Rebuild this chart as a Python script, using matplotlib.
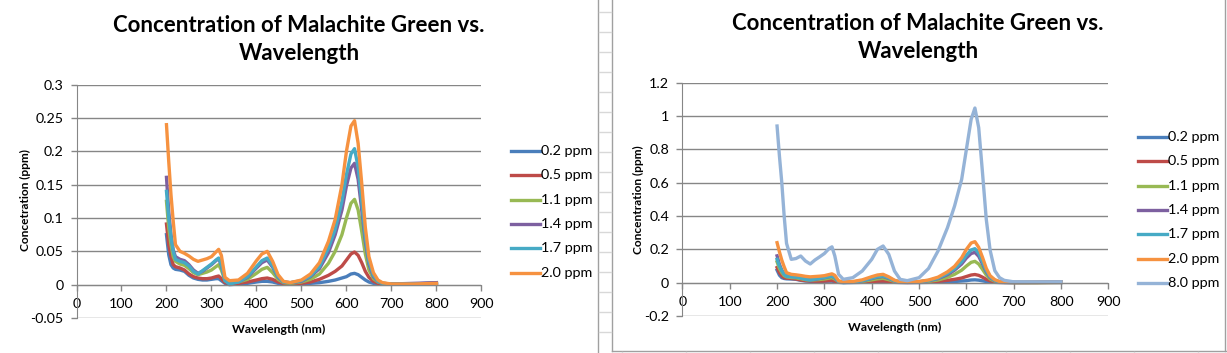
"""
Absorbance spectra of malachite green standards, redrawn as two Excel-style
line charts side by side (without and with the 8.0 ppm standard).
"""

import matplotlib
matplotlib.use('Agg')
import matplotlib.pyplot as plt
from matplotlib.lines import Line2D
from matplotlib.ticker import FuncFormatter

plt.rcParams['font.family'] = ['Lato', 'DejaVu Sans']

# Wavelength grid (nm)
wavelength = [200, 205, 210, 215, 220, 230, 240, 250, 260, 270, 280, 290, 300,
              310, 316, 322, 330, 340, 360, 380, 400, 412, 424, 436, 448, 460,
              475, 500, 520, 540, 560, 575, 590, 600, 610, 618, 626, 634, 642,
              650, 660, 670, 680, 700, 750, 800]

series_labels = ['0.2 ppm', '0.5 ppm', '1.1 ppm', '1.4 ppm', '1.7 ppm',
                 '2.0 ppm', '8.0 ppm']

ppm_0_2 = [0.075, 0.045, 0.030, 0.025, 0.023, 0.022, 0.020, 0.014, 0.010, 0.008,
           0.007, 0.007, 0.008, 0.009, 0.009, 0.006, 0.002, 0.000, 0.001, 0.002,
           0.004, 0.005, 0.005, 0.004, 0.002, 0.001, 0.001, 0.001, 0.002, 0.003,
           0.005, 0.007, 0.010, 0.012, 0.016, 0.017, 0.015, 0.011, 0.007, 0.004,
           0.002, 0.001, 0.001, 0.001, 0.001, 0.003]

ppm_0_5 = [0.091, 0.060, 0.042, 0.030, 0.027, 0.025, 0.022, 0.016, 0.012, 0.010,
           0.009, 0.009, 0.010, 0.012, 0.013, 0.009, 0.003, 0.002, 0.002, 0.004,
           0.007, 0.009, 0.010, 0.008, 0.004, 0.002, 0.001, 0.002, 0.004, 0.008,
           0.014, 0.020, 0.028, 0.037, 0.046, 0.049, 0.044, 0.033, 0.020, 0.011,
           0.005, 0.002, 0.001, 0.001, 0.001, 0.001]

ppm_1_1 = [0.125, 0.085, 0.060, 0.042, 0.035, 0.031, 0.029, 0.024, 0.018, 0.015,
           0.017, 0.019, 0.022, 0.027, 0.030, 0.022, 0.006, 0.003, 0.004, 0.008,
           0.017, 0.023, 0.026, 0.018, 0.008, 0.003, 0.002, 0.004, 0.008, 0.016,
           0.032, 0.050, 0.075, 0.100, 0.122, 0.128, 0.112, 0.080, 0.046, 0.022,
           0.009, 0.004, 0.002, 0.001, 0.001, 0.002]

ppm_1_4 = [0.161, 0.110, 0.075, 0.052, 0.042, 0.038, 0.036, 0.030, 0.022, 0.017,
           0.020, 0.025, 0.030, 0.036, 0.039, 0.029, 0.007, 0.003, 0.004, 0.011,
           0.025, 0.033, 0.037, 0.026, 0.011, 0.004, 0.003, 0.005, 0.012, 0.024,
           0.048, 0.075, 0.112, 0.148, 0.175, 0.182, 0.158, 0.112, 0.065, 0.031,
           0.012, 0.005, 0.002, 0.001, 0.002, 0.003]

ppm_1_7 = [0.140, 0.100, 0.072, 0.050, 0.038, 0.035, 0.033, 0.028, 0.020, 0.016,
           0.021, 0.026, 0.031, 0.037, 0.040, 0.030, 0.006, 0.001, 0.004, 0.012,
           0.027, 0.036, 0.040, 0.028, 0.012, 0.004, 0.003, 0.006, 0.013, 0.027,
           0.055, 0.083, 0.125, 0.165, 0.196, 0.204, 0.176, 0.125, 0.072, 0.035,
           0.014, 0.005, 0.002, 0.001, 0.001, 0.001]

ppm_2_0 = [0.240, 0.185, 0.135, 0.095, 0.060, 0.050, 0.047, 0.043, 0.038, 0.035,
           0.037, 0.039, 0.042, 0.049, 0.053, 0.044, 0.011, 0.006, 0.007, 0.017,
           0.036, 0.046, 0.050, 0.035, 0.015, 0.005, 0.003, 0.007, 0.016, 0.033,
           0.065, 0.098, 0.150, 0.200, 0.238, 0.246, 0.212, 0.152, 0.086, 0.042,
           0.018, 0.007, 0.003, 0.001, 0.001, 0.002]

ppm_8_0 = [0.940, 0.760, 0.600, 0.400, 0.236, 0.140, 0.145, 0.160, 0.130, 0.112,
           0.136, 0.155, 0.175, 0.205, 0.215, 0.160, 0.050, 0.020, 0.030, 0.070,
           0.140, 0.200, 0.220, 0.170, 0.070, 0.020, 0.012, 0.030, 0.085, 0.190,
           0.330, 0.460, 0.620, 0.800, 0.980, 1.048, 0.930, 0.660, 0.380, 0.196,
           0.072, 0.030, 0.014, 0.005, 0.004, 0.005]

# Excel 2007 default series colours
colors = ['#4A7EBB', '#BE4B48', '#98B954', '#7D60A0', '#46AAC5', '#F69240',
          '#95B3D7']

left_yticks = [-0.05, 0, 0.05, 0.1, 0.15, 0.2, 0.25, 0.3]
right_yticks = [-0.2, 0, 0.2, 0.4, 0.6, 0.8, 1.0, 1.2]
xticks = [0, 100, 200, 300, 400, 500, 600, 700, 800, 900]

W, H = 1227, 353
GRID = '#868686'
LW = 2.4


def px_box(x0, y0, x1, y1):
    """Convert a pixel box (top-left origin) to figure fractions."""
    return [x0 / W, 1 - y1 / H, (x1 - x0) / W, (y1 - y0) / H]


def fy(y):
    """Pixel row (from the top) to figure fraction."""
    return 1 - y / H


def style_axes(ax, yticks):
    """Excel look: grey horizontal grid, axis crossing at zero."""
    ax.set_xlim(0, 900)
    ax.set_ylim(yticks[0], yticks[-1])
    ax.set_xticks(xticks)
    ax.set_yticks(yticks)
    ax.yaxis.set_major_formatter(FuncFormatter(lambda v, p: '{:g}'.format(round(v, 3))))
    ax.grid(axis='y', color=GRID, linewidth=1.0)
    ax.set_axisbelow(True)
    for side in ['top', 'right']:
        ax.spines[side].set_visible(False)
    ax.spines['bottom'].set_position(('data', 0))
    ax.spines['bottom'].set_color(GRID)
    ax.spines['left'].set_color(GRID)
    ax.tick_params(axis='both', direction='out', length=4, width=1,
                   color=GRID, labelsize=10.3, labelcolor='black')
    ax.tick_params(axis='y', pad=5.5)
    ax.tick_params(axis='x', pad=5.5)
    ax.patch.set_visible(False)


def draw_legend(fig, series, x0, y0, step=24.35):
    """Excel-style legend: short line then label, one row per series."""
    for i, (label, _, color) in enumerate(series):
        y = fy(y0 + i * step)
        fig.add_artist(Line2D([x0 / W, (x0 + 29) / W], [y, y],
                              transform=fig.transFigure, color=color,
                              linewidth=LW))
        fig.text((x0 + 30) / W, y, label, ha='left', va='center',
                 fontsize=10.4)


def draw_chart(fig, box, series, yticks, title_xy, ylabel, ylabel_xy,
               xlabel_xy, legend_xy):
    ax = fig.add_axes(px_box(*box))
    style_axes(ax, yticks)
    for label, values, color in series:
        ax.plot(wavelength, values, color=color, linewidth=LW,
                solid_joinstyle='round', label=label)

    tx, ty = title_xy
    fig.text(tx / W, fy(ty), 'Concentration of Malachite Green vs.',
             ha='center', va='center', fontsize=16, fontweight='bold')
    fig.text(tx / W, fy(ty + 28.5), 'Wavelength',
             ha='center', va='center', fontsize=16, fontweight='bold')
    fig.text(ylabel_xy[0] / W, fy(ylabel_xy[1]), ylabel, rotation=90,
             ha='center', va='center', fontsize=8.6, fontweight='bold')
    fig.text(xlabel_xy[0] / W, fy(xlabel_xy[1]), 'Wavelength (nm)',
             ha='center', va='center', fontsize=8.8, fontweight='bold')

    draw_legend(fig, series, *legend_xy)
    return ax


def draw_sheet_lines(fig):
    """Spreadsheet borders and cell lines between and around the charts."""
    line = dict(transform=fig.transFigure, color='#A0A0A0', linewidth=1)
    fig.add_artist(Line2D([598 / W, 598 / W], [0, 1], **line))
    fig.add_artist(Line2D([612 / W, 612 / W], [fy(351), 1], **line))
    fig.add_artist(Line2D([612 / W, 1], [fy(351), fy(351)], **line))
    fig.add_artist(Line2D([1225 / W, 1225 / W], [fy(351), 1], **line))
    cell = dict(transform=fig.transFigure, color='#D8D8D8', linewidth=1)
    for y in range(12, 350, 20):
        fig.add_artist(Line2D([599 / W, 611 / W], [fy(y), fy(y)], **cell))
    for x in range(622, 1227, 64):
        fig.add_artist(Line2D([x / W, x / W], [0, fy(352)], **cell))


def main():
    fig = plt.figure(figsize=(W / 100, H / 100), dpi=100)
    all_values = [ppm_0_2, ppm_0_5, ppm_1_1, ppm_1_4, ppm_1_7, ppm_2_0, ppm_8_0]
    series = list(zip(series_labels, all_values, colors))

    draw_chart(fig, (76.5, 84.7, 481.4, 318), series[:6], left_yticks,
               title_xy=(299, 25), ylabel='Concetration (ppm)',
               ylabel_xy=(25, 200), xlabel_xy=(279, 329),
               legend_xy=(511, 151))
    draw_chart(fig, (682.4, 82.7, 1108.4, 316), series, right_yticks,
               title_xy=(918, 23), ylabel='Concentration (ppm)',
               ylabel_xy=(638, 200), xlabel_xy=(895, 327),
               legend_xy=(1138, 137))
    draw_sheet_lines(fig)

    fig.savefig('out.png', dpi=100)
    plt.close(fig)


if __name__ == '__main__':
    main()
